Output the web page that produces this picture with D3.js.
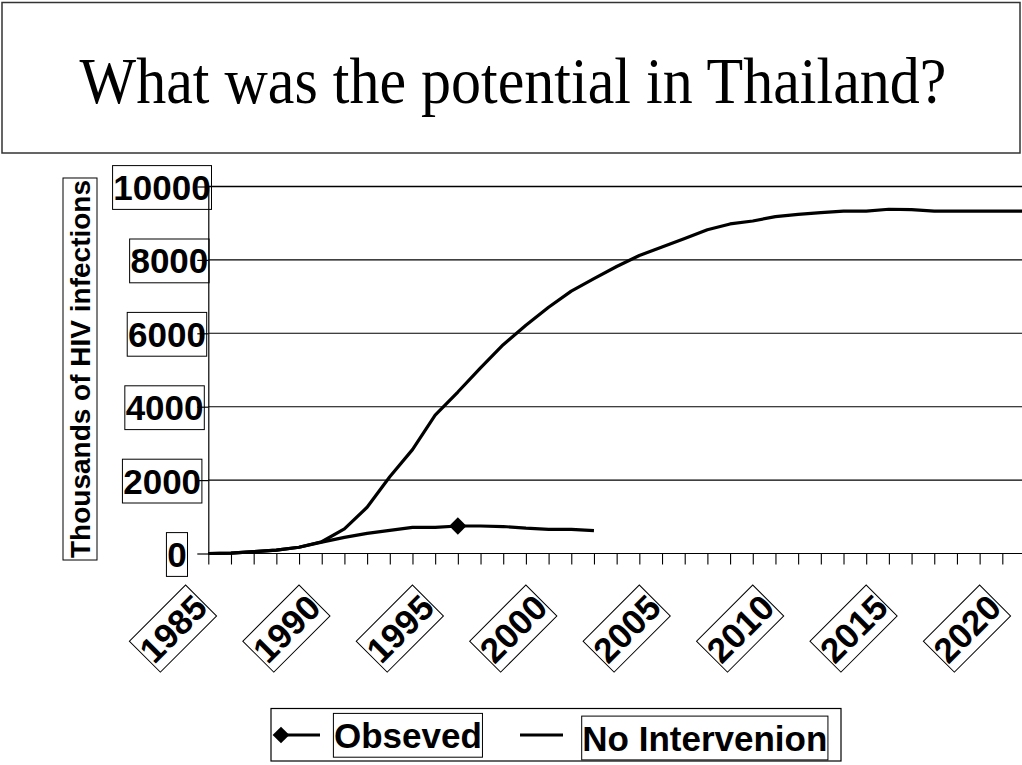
<!DOCTYPE html>
<html>
<head>
<meta charset="utf-8">
<script src="https://cdn.jsdelivr.net/npm/d3@7"></script>
<style>
  body { margin: 0; background: #fff; }
  svg { display: block; }
</style>
</head>
<body>
<svg id="chart" width="1022" height="765"></svg>
<script>
// ---- data ----
const chartTitle = "What was the potential in Thailand?";
const yAxisTitle = "Thousands of HIV infections";

const years = [1985, 1986, 1987, 1988, 1989, 1990, 1991, 1992, 1993, 1994,
               1995, 1996, 1997, 1998, 1999, 2000, 2001, 2002, 2003, 2004,
               2005, 2006, 2007, 2008, 2009, 2010, 2011, 2012, 2013, 2014,
               2015, 2016, 2017, 2018, 2019, 2020, 2021];

const observedYears = [1985, 1986, 1987, 1988, 1989, 1990, 1991, 1992, 1993,
                       1994, 1995, 1996, 1997, 1998, 1999, 2000, 2001, 2002];
const observedValues = [0, 10, 50, 90, 170, 310, 440, 550, 630,
                        710, 710, 750, 750, 735, 690, 660, 660, 625];
const observedMarkerYears = [1996];

const noInterventionValues = [0, 10, 50, 90, 170, 320, 670, 1260, 2090, 2830,
                              3770, 4400, 5060, 5690, 6220, 6710, 7150, 7490, 7820, 8120,
                              8350, 8580, 8820, 8980, 9060, 9180, 9240, 9290, 9330, 9330,
                              9380, 9370, 9330, 9330, 9330, 9330, 9330];

const yTickValues = [0, 2000, 4000, 6000, 8000, 10000];
const xLabelYears = [1985, 1990, 1995, 2000, 2005, 2010, 2015, 2020];
const legendLabels = ["Obseved", "No Intervenion"];

// ---- setup ----
const svg = d3.select("#chart");
const W = 1022, H = 765;
const labelFont = "'Liberation Sans', Arial, sans-serif";

svg.append("rect").attr("width", W).attr("height", H).attr("fill", "#fff");

// title panel
svg.append("rect")
  .attr("x", 2).attr("y", 2.5).attr("width", 1018).attr("height", 150.5)
  .attr("fill", "none").attr("stroke", "#333").attr("stroke-width", 1.5);
svg.append("text")
  .attr("transform", "translate(513,102.5) scale(1,1.075)")
  .attr("text-anchor", "middle")
  .attr("font-family", "'Liberation Serif', 'Times New Roman', serif")
  .attr("font-size", 60)
  .attr("fill", "#000")
  .text(chartTitle);

// scales
const x = d3.scaleLinear().domain([1985, 2021]).range([208.3, 1025]);
const y = d3.scaleLinear().domain([0, 10000]).range([553.5, 186.5]);
const plotRight = W;

// horizontal gridlines
svg.append("g").selectAll("line")
  .data(yTickValues.filter(v => v > 0))
  .join("line")
  .attr("x1", x(1985)).attr("x2", plotRight)
  .attr("y1", d => y(d)).attr("y2", d => y(d))
  .attr("stroke", "#000").attr("stroke-width", d => d === 10000 ? 1.6 : 1.1);

// x axis base line
svg.append("line")
  .attr("x1", x(1985)).attr("x2", plotRight)
  .attr("y1", y(0)).attr("y2", y(0))
  .attr("stroke", "#000").attr("stroke-width", 1.2);

// y axis with outside ticks
const yAxis = svg.append("g")
  .attr("transform", `translate(${x(1985)},0)`)
  .call(d3.axisLeft(y).tickValues(yTickValues).tickSize(11).tickSizeOuter(0).tickFormat(""));
yAxis.selectAll("path, line").attr("stroke", "#000").attr("stroke-width", 1.2);

// x axis category ticks
const xAxis = svg.append("g")
  .attr("transform", `translate(0,${y(0)})`)
  .call(d3.axisBottom(x).tickValues(years).tickSize(11).tickSizeOuter(0).tickFormat(""));
xAxis.select(".domain").remove();
xAxis.selectAll("line").attr("stroke", "#000").attr("stroke-width", 1.1);

// helper: boxed text, box sized from the text's own extent
function boxText(g, str, size, anchor, padX, padY) {
  const t = g.append("text")
    .attr("font-family", labelFont)
    .attr("font-weight", "bold")
    .attr("font-size", size)
    .attr("text-anchor", anchor)
    .attr("fill", "#000")
    .text(str);
  const bb = t.node().getBBox();
  const dy = -(bb.y + bb.height / 2);
  t.attr("y", dy);
  g.insert("rect", "text")
    .attr("x", bb.x - padX).attr("y", -bb.height / 2 - padY)
    .attr("width", bb.width + 2 * padX).attr("height", bb.height + 2 * padY)
    .attr("fill", "none").attr("stroke", "#000").attr("stroke-width", 1);
  return t;
}

// y tick labels
yTickValues.forEach(v => {
  const right = v === 0 ? 187.5 : 199.5 + 12 * v / 10000;
  const g = svg.append("g").attr("transform", `translate(${right - 0.8},${y(v) + 1})`);
  boxText(g, String(v), 35, "end", 0.8, 2.4);
});

// y axis title
{
  const g = svg.append("g").attr("transform", "translate(80,369) rotate(-90)");
  boxText(g, yAxisTitle, 28, "middle", 2, 1.5);
}

// x tick labels (rotated)
xLabelYears.forEach(yr => {
  const g = svg.append("g").attr("transform", `translate(${x(yr) - 7.8},601) rotate(-45)`);
  boxText(g, String(yr), 35, "end", 0.8, 2.4);
});

// series lines
const line = d3.line().x(d => x(d[0])).y(d => y(d[1]));

svg.append("path")
  .datum(years.map((yr, i) => [yr, noInterventionValues[i]]))
  .attr("d", line)
  .attr("fill", "none").attr("stroke", "#000")
  .attr("stroke-width", 3.2).attr("stroke-linejoin", "round").attr("stroke-linecap", "butt");

svg.append("path")
  .datum(observedYears.map((yr, i) => [yr, observedValues[i]]))
  .attr("d", line)
  .attr("fill", "none").attr("stroke", "#000")
  .attr("stroke-width", 3.2).attr("stroke-linejoin", "round").attr("stroke-linecap", "butt");

const diamond = d3.symbol().type(d3.symbolSquare).size(150);
svg.append("g").selectAll("path")
  .data(observedMarkerYears)
  .join("path")
  .attr("d", diamond)
  .attr("transform", d => `translate(${x(d)},${y(observedValues[observedYears.indexOf(d)])}) rotate(45)`)
  .attr("fill", "#000");

// legend
const legend = svg.append("g");
legend.append("rect")
  .attr("x", 271).attr("y", 708.5).attr("width", 570).attr("height", 52.5)
  .attr("fill", "none").attr("stroke", "#000").attr("stroke-width", 1.2);

// observed entry
legend.append("line")
  .attr("x1", 284).attr("x2", 320).attr("y1", 735).attr("y2", 735)
  .attr("stroke", "#000").attr("stroke-width", 2.8);
legend.append("path")
  .attr("d", d3.symbol().type(d3.symbolSquare).size(140))
  .attr("transform", "translate(281,735) rotate(45)")
  .attr("fill", "#000");
{
  const g = legend.append("g").attr("transform", "translate(334,735.3)");
  boxText(g, legendLabels[0], 35, "start", 0.6, 2.4);
}

// no-intervention entry
legend.append("line")
  .attr("x1", 520).attr("x2", 563).attr("y1", 735).attr("y2", 735)
  .attr("stroke", "#000").attr("stroke-width", 2.8);
{
  const g = legend.append("g").attr("transform", "translate(582.3,738)");
  boxText(g, legendLabels[1], 35, "start", 0.6, 2.4);
}
</script>
</body>
</html>
